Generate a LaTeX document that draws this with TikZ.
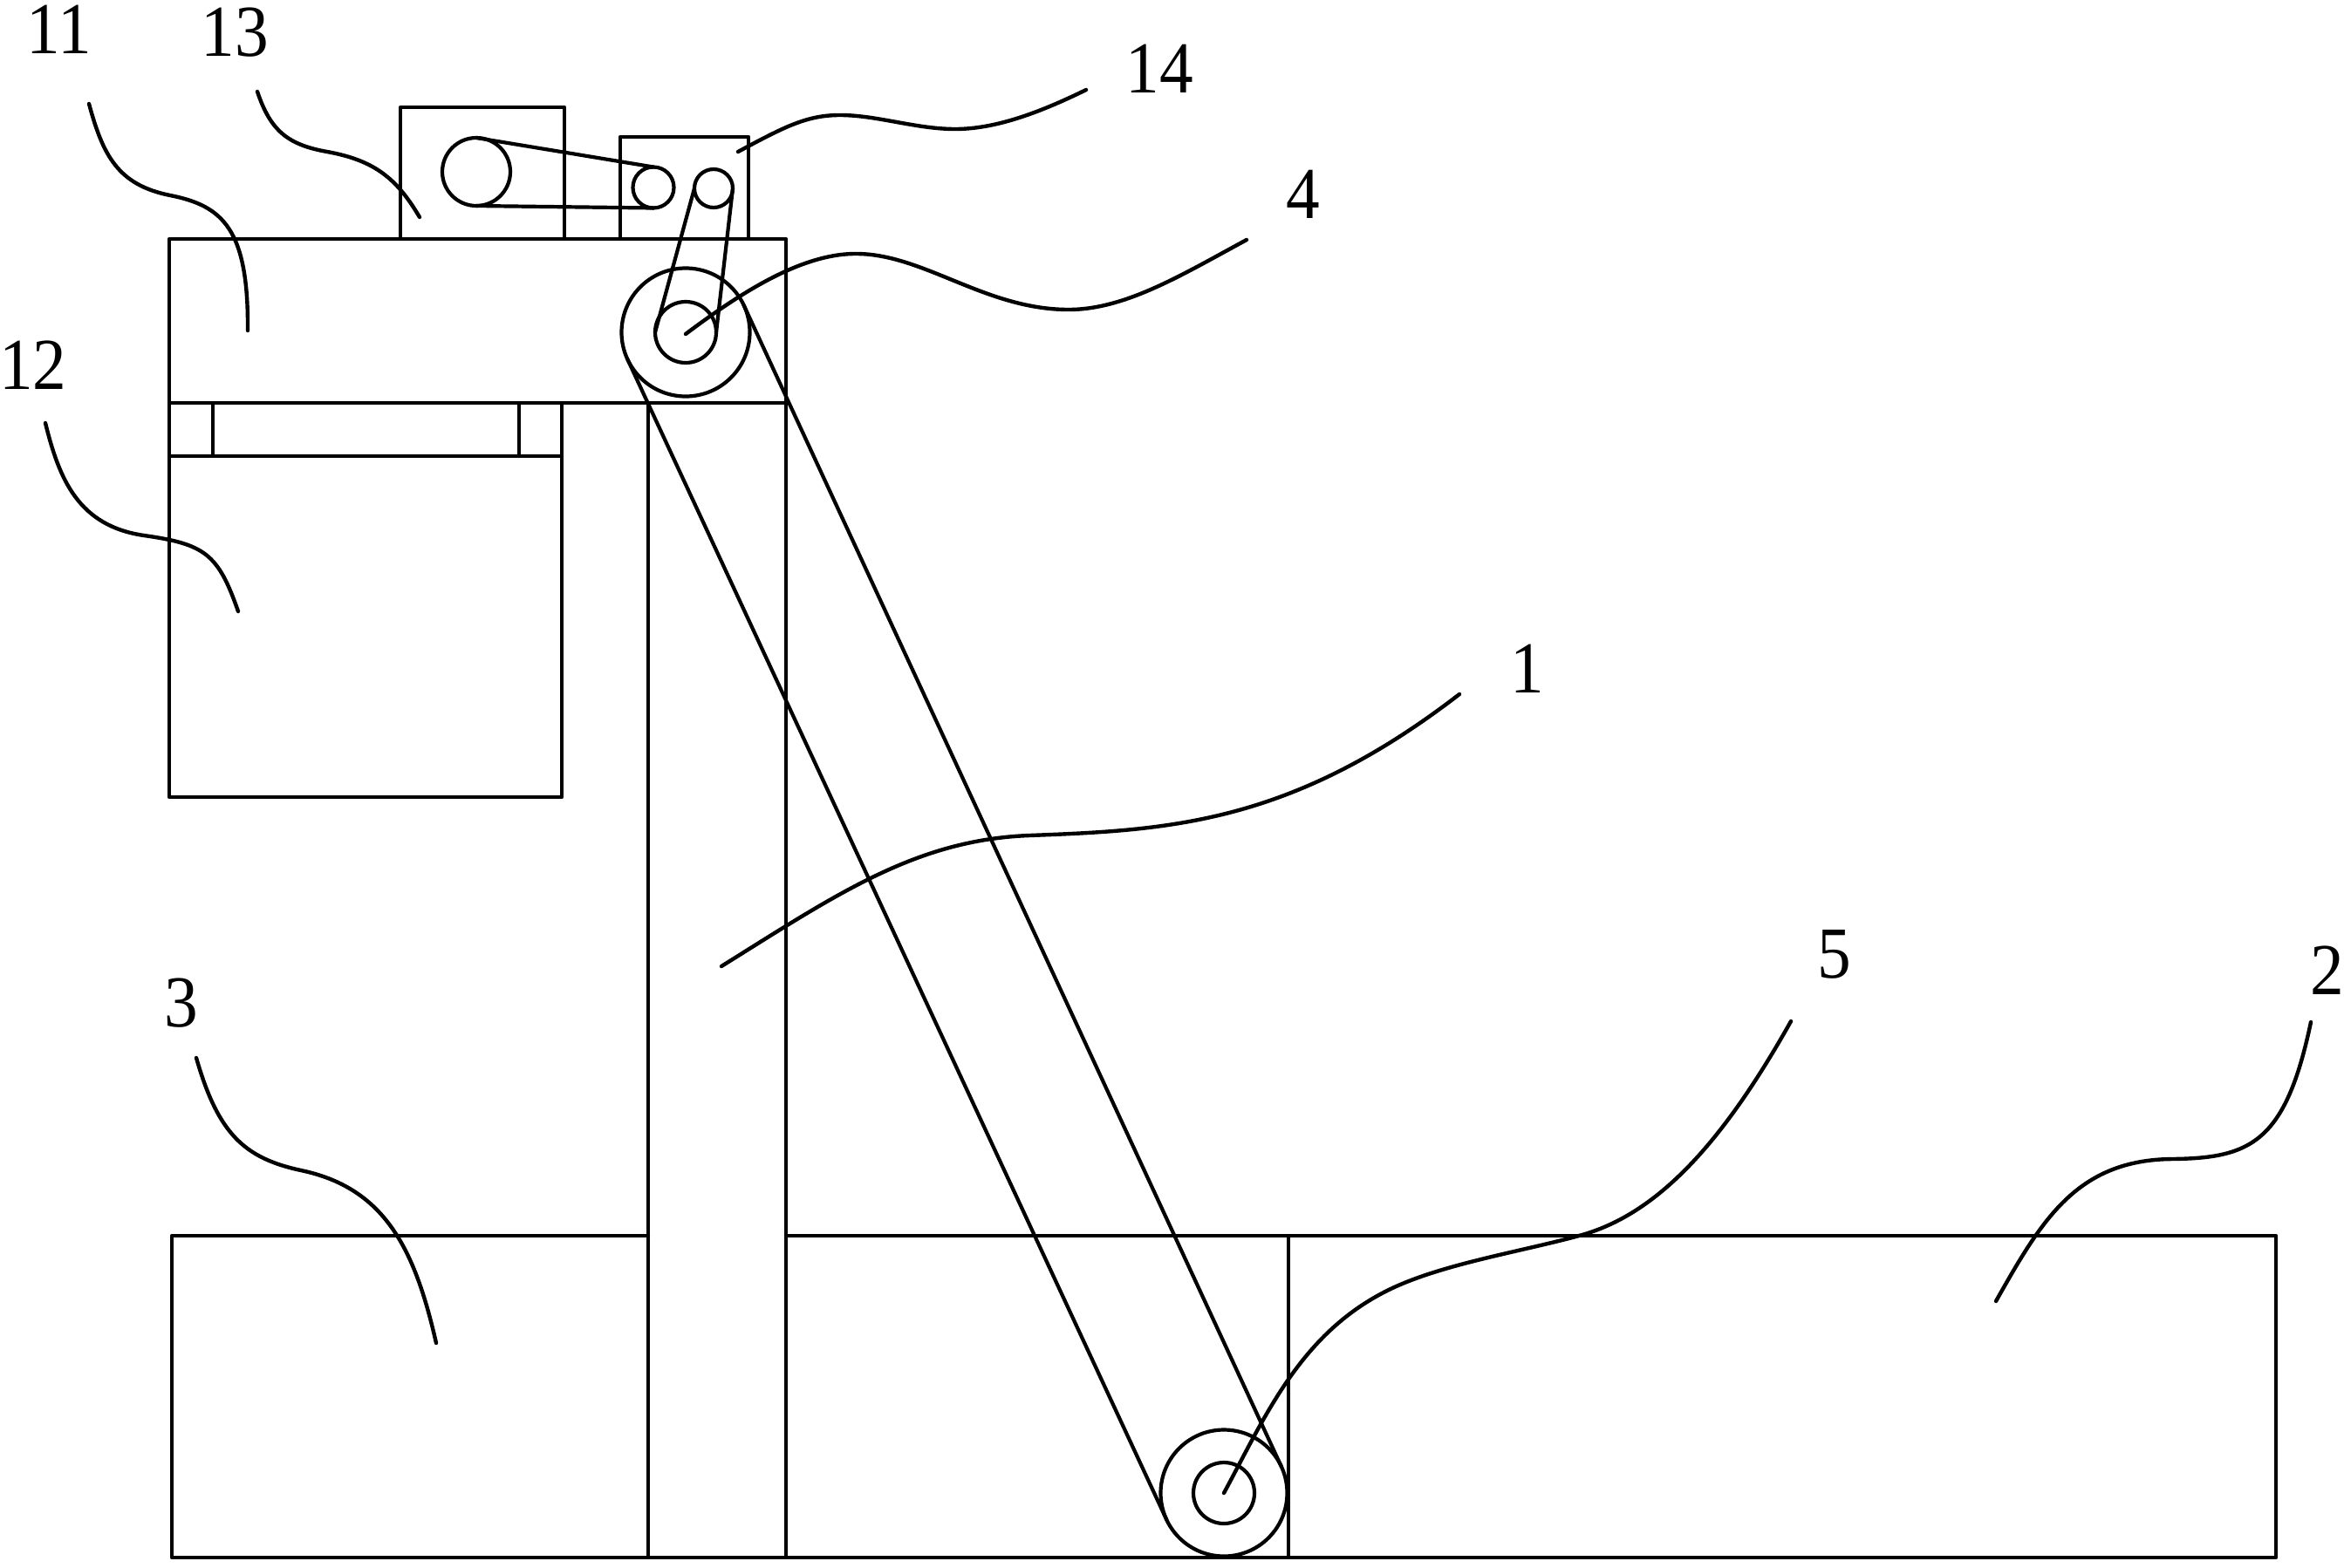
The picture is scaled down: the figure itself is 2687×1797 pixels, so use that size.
\documentclass[tikz,border=0pt]{standalone}
\usepackage{fontspec}
\newfontfamily\labfont[FakeStretch=0.92]{Liberation Serif}
\tikzset{
  part/.style={line width=4.2pt,line cap=round,line join=round},
  wheel/.style={circle,draw,line width=4.2pt,inner sep=0pt,outer sep=0pt,minimum size=#1},
  leader/.style={line width=4.4pt,line cap=round},
  numlabel/.style={font=\labfont\fontsize{84}{84}\selectfont,inner sep=0pt,text=black}
}
\begin{document}
\begin{tikzpicture}[x=1pt,y=-1pt]
\useasboundingbox (0,0) rectangle (2687,1797);
% upper housing
\draw[part] (194,274) rectangle (901,462);
\draw[part] (194,462) -- (194,914) -- (644,914) -- (644,462);
\draw[part] (194,523) -- (644,523);
\draw[part] (244,462) -- (244,523);
\draw[part] (595,462) -- (595,523);
% motor and gearbox
\draw[part] (459,274) -- (459,123) -- (647,123) -- (647,274);
\draw[part] (711,274) -- (711,157) -- (858,157) -- (858,274);
% column
\draw[part] (743,462) -- (743,1786);
\draw[part] (901,462) -- (901,1786);
% lower tanks
\draw[part] (743,1417) -- (197,1417) -- (197,1786) -- (2609,1786) -- (2609,1417) -- (901,1417);
\draw[part] (1477,1417) -- (1477,1786);
% wheels
\node[wheel=78pt] (motorw) at (546,197) {};
\node[wheel=47pt] (gearA) at (749,215) {};
\node[wheel=44pt] (gearB) at (818,216) {};
\node[wheel=147pt] (topouter) at (786,381) {};
\node[wheel=70pt] (topinner) at (786,381) {};
\node[wheel=145pt] (botouter) at (1403,1712) {};
\node[wheel=70pt] (botinner) at (1403,1712) {};
% belts
\draw[part] (motorw.north) -- (gearA.north);
\draw[part] (motorw.south) -- (gearA.south);
\draw[part] (gearB.west) -- (topinner.west);
\draw[part] (gearB.east) -- (topinner.east);
\draw[part] (topouter.205) -- (botouter.205);
\draw[part] (topouter.25) -- (botouter.25);
% labels
\node[numlabel] (n11) at (68,34) {11};
\node[numlabel] (n13) at (269,37) {13};
\node[numlabel] (n12) at (38,419) {12};
\node[numlabel] (n14) at (1329,79) {14};
\node[numlabel] (n4) at (1494,223) {4};
\node[numlabel] (n1) at (1751,767) {1};
\node[numlabel] (n5) at (2103,1094) {5};
\node[numlabel] (n2) at (2668,1113) {2};
\node[numlabel] (n3) at (208,1150) {3};
% leaders
\draw[leader] (102,119) .. controls (118,178) and (135,212) .. (195,224) .. controls (255,236) and (285,262) .. (284,379);
\draw[leader] (295,105) .. controls (310,150) and (330,166) .. (375,174) .. controls (430,184) and (455,205) .. (481,249);
\draw[leader] (52,485) .. controls (68,550) and (90,603) .. (165,614) .. controls (235,624) and (250,635) .. (273,701);
\draw[leader] (846,174) .. controls (900,145) and (925,132) .. (963,132) .. controls (1005,132) and (1050,148) .. (1095,148) .. controls (1140,148) and (1190,130) .. (1245,103);
\draw[leader] (786,383) .. controls (850,335) and (920,290) .. (983,291) .. controls (1060,292) and (1130,355) .. (1225,355) .. controls (1290,355) and (1355,315) .. (1429,275);
\draw[leader] (827,1108) .. controls (960,1025) and (1050,963) .. (1180,958) .. controls (1340,952) and (1480,945) .. (1673,796);
\draw[leader] (1403,1712) .. controls (1450,1625) and (1490,1530) .. (1590,1480) .. controls (1650,1450) and (1740,1436) .. (1810,1417) .. controls (1900,1393) and (1975,1310) .. (2053,1171);
\draw[leader] (2288,1492) .. controls (2340,1400) and (2380,1330) .. (2490,1329) .. controls (2580,1328) and (2620,1310) .. (2649,1172);
\draw[leader] (225,1213) .. controls (250,1300) and (280,1328) .. (345,1342) .. controls (440,1362) and (475,1430) .. (500,1540);
\end{tikzpicture}
\end{document}
